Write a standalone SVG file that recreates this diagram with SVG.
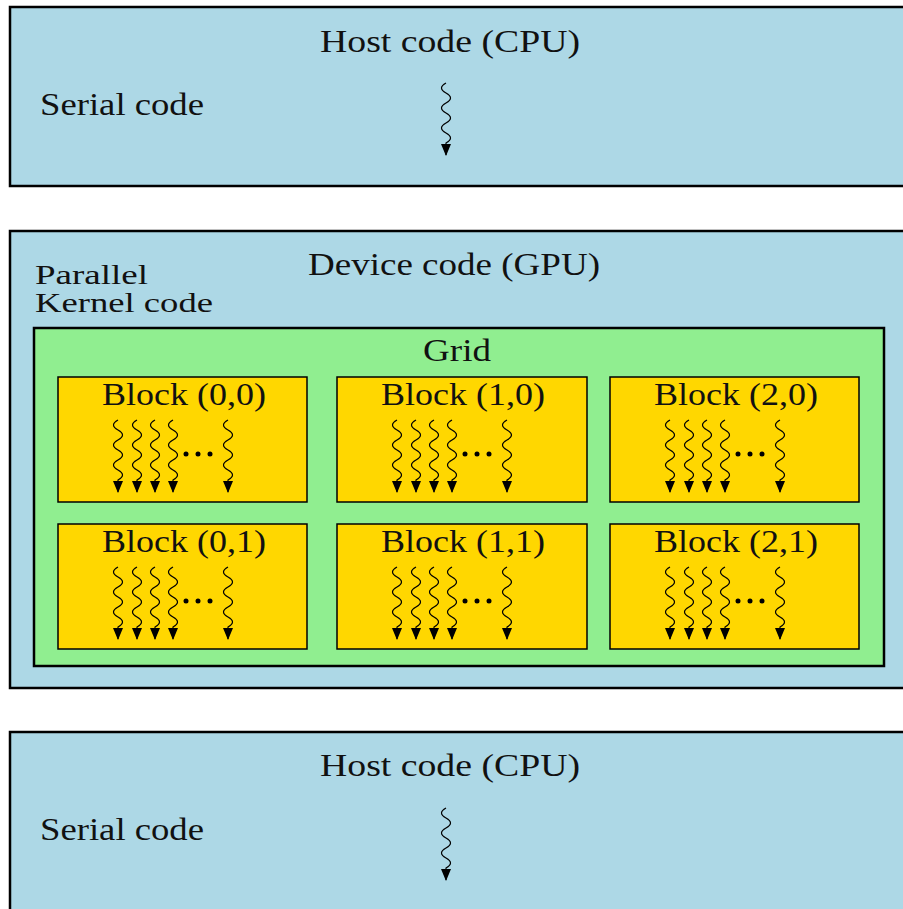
<svg xmlns="http://www.w3.org/2000/svg" width="903" height="909" viewBox="0 0 903 909">
  <style>
    .host { fill: #ADD8E6; stroke: #000; stroke-width: 2.5; }
    .grid { fill: #90EE90; stroke: #000; stroke-width: 2.5; }
    .block { fill: #FFD700; stroke: #000; stroke-width: 1.5; }
    .lbl { font-family: "Liberation Serif", "DejaVu Serif", serif; font-size: 31px; fill: #111; }
    .small { font-size: 28px; }
    .wave { fill: none; stroke: #000; stroke-width: 1.2; }
  </style>
  <defs>
    <marker id="tip" markerUnits="userSpaceOnUse" markerWidth="12" markerHeight="10" refX="11" refY="5" orient="auto" viewBox="0 0 12 10">
      <path d="M0,0 L12,5 L0,10 Z" fill="#000"/>
    </marker>
  </defs>

  <!-- host section, top -->
  <g id="host-top">
    <rect class="host" x="10" y="7" width="910" height="179"/>
    <text class="lbl" x="320" y="52" textLength="260" lengthAdjust="spacingAndGlyphs">Host code (CPU)</text>
    <text class="lbl" x="40" y="115" textLength="164" lengthAdjust="spacingAndGlyphs">Serial code</text>
  </g>

  <!-- device section -->
  <g id="device">
    <rect class="host" x="10" y="231" width="910" height="457"/>
    <text class="lbl" x="308" y="275" textLength="292" lengthAdjust="spacingAndGlyphs">Device code (GPU)</text>
    <text class="lbl small" x="35" y="284" textLength="113" lengthAdjust="spacingAndGlyphs">Parallel</text>
    <text class="lbl small" x="35" y="312" textLength="178" lengthAdjust="spacingAndGlyphs">Kernel code</text>
  </g>

  <g id="grid">
    <rect class="grid" x="34" y="328" width="850" height="338"/>
    <text class="lbl" x="423" y="361" textLength="68" lengthAdjust="spacingAndGlyphs">Grid</text>
  </g>

  <g id="block-0-0">
    <rect class="block" x="58" y="377" width="249" height="125"/>
    <text class="lbl" x="102" y="405" textLength="164" lengthAdjust="spacingAndGlyphs">Block (0,0)</text>
  </g>
  <g id="block-1-0">
    <rect class="block" x="337" y="377" width="250" height="125"/>
    <text class="lbl" x="381" y="405" textLength="164" lengthAdjust="spacingAndGlyphs">Block (1,0)</text>
  </g>
  <g id="block-2-0">
    <rect class="block" x="610" y="377" width="249" height="125"/>
    <text class="lbl" x="654" y="405" textLength="164" lengthAdjust="spacingAndGlyphs">Block (2,0)</text>
  </g>
  <g id="block-0-1">
    <rect class="block" x="58" y="524" width="249" height="125"/>
    <text class="lbl" x="102" y="552" textLength="164" lengthAdjust="spacingAndGlyphs">Block (0,1)</text>
  </g>
  <g id="block-1-1">
    <rect class="block" x="337" y="524" width="250" height="125"/>
    <text class="lbl" x="381" y="552" textLength="164" lengthAdjust="spacingAndGlyphs">Block (1,1)</text>
  </g>
  <g id="block-2-1">
    <rect class="block" x="610" y="524" width="249" height="125"/>
    <text class="lbl" x="654" y="552" textLength="164" lengthAdjust="spacingAndGlyphs">Block (2,1)</text>
  </g>

  <!-- host section, bottom -->
  <g id="host-bottom">
    <rect class="host" x="10" y="732" width="910" height="200"/>
    <text class="lbl" x="320" y="776" textLength="260" lengthAdjust="spacingAndGlyphs">Host code (CPU)</text>
    <text class="lbl" x="40" y="840" textLength="164" lengthAdjust="spacingAndGlyphs">Serial code</text>
  </g>

  <!-- threads of execution: squiggles ending in arrowheads -->
  <g id="connectors">
    <path class="wave" marker-end="url(#tip)" d="M446,83 q-9,5 0,10 t0,10 t0,10 t0,10 t0,10 t0,10 l0,12"/>
    <path class="wave" marker-end="url(#tip)" d="M446,808 q-9,5 0,10 t0,10 t0,10 t0,10 t0,10 t0,10 l0,12"/>
    <g id="block-threads">
      <path class="wave" marker-end="url(#tip)" d="M118,420 q-9,5 0,10 t0,10 t0,10 t0,10 t0,10 t0,10 l0,12"/>
      <path class="wave" marker-end="url(#tip)" d="M137,420 q-9,5 0,10 t0,10 t0,10 t0,10 t0,10 t0,10 l0,12"/>
      <path class="wave" marker-end="url(#tip)" d="M155,420 q-9,5 0,10 t0,10 t0,10 t0,10 t0,10 t0,10 l0,12"/>
      <path class="wave" marker-end="url(#tip)" d="M173,420 q-9,5 0,10 t0,10 t0,10 t0,10 t0,10 t0,10 l0,12"/>
      <path class="wave" marker-end="url(#tip)" d="M228,420 q-9,5 0,10 t0,10 t0,10 t0,10 t0,10 t0,10 l0,12"/>

      <path class="wave" marker-end="url(#tip)" d="M397,420 q-9,5 0,10 t0,10 t0,10 t0,10 t0,10 t0,10 l0,12"/>
      <path class="wave" marker-end="url(#tip)" d="M416,420 q-9,5 0,10 t0,10 t0,10 t0,10 t0,10 t0,10 l0,12"/>
      <path class="wave" marker-end="url(#tip)" d="M434,420 q-9,5 0,10 t0,10 t0,10 t0,10 t0,10 t0,10 l0,12"/>
      <path class="wave" marker-end="url(#tip)" d="M452,420 q-9,5 0,10 t0,10 t0,10 t0,10 t0,10 t0,10 l0,12"/>
      <path class="wave" marker-end="url(#tip)" d="M507,420 q-9,5 0,10 t0,10 t0,10 t0,10 t0,10 t0,10 l0,12"/>

      <path class="wave" marker-end="url(#tip)" d="M670,420 q-9,5 0,10 t0,10 t0,10 t0,10 t0,10 t0,10 l0,12"/>
      <path class="wave" marker-end="url(#tip)" d="M689,420 q-9,5 0,10 t0,10 t0,10 t0,10 t0,10 t0,10 l0,12"/>
      <path class="wave" marker-end="url(#tip)" d="M707,420 q-9,5 0,10 t0,10 t0,10 t0,10 t0,10 t0,10 l0,12"/>
      <path class="wave" marker-end="url(#tip)" d="M725,420 q-9,5 0,10 t0,10 t0,10 t0,10 t0,10 t0,10 l0,12"/>
      <path class="wave" marker-end="url(#tip)" d="M780,420 q-9,5 0,10 t0,10 t0,10 t0,10 t0,10 t0,10 l0,12"/>

      <path class="wave" marker-end="url(#tip)" d="M118,567 q-9,5 0,10 t0,10 t0,10 t0,10 t0,10 t0,10 l0,12"/>
      <path class="wave" marker-end="url(#tip)" d="M137,567 q-9,5 0,10 t0,10 t0,10 t0,10 t0,10 t0,10 l0,12"/>
      <path class="wave" marker-end="url(#tip)" d="M155,567 q-9,5 0,10 t0,10 t0,10 t0,10 t0,10 t0,10 l0,12"/>
      <path class="wave" marker-end="url(#tip)" d="M173,567 q-9,5 0,10 t0,10 t0,10 t0,10 t0,10 t0,10 l0,12"/>
      <path class="wave" marker-end="url(#tip)" d="M228,567 q-9,5 0,10 t0,10 t0,10 t0,10 t0,10 t0,10 l0,12"/>

      <path class="wave" marker-end="url(#tip)" d="M397,567 q-9,5 0,10 t0,10 t0,10 t0,10 t0,10 t0,10 l0,12"/>
      <path class="wave" marker-end="url(#tip)" d="M416,567 q-9,5 0,10 t0,10 t0,10 t0,10 t0,10 t0,10 l0,12"/>
      <path class="wave" marker-end="url(#tip)" d="M434,567 q-9,5 0,10 t0,10 t0,10 t0,10 t0,10 t0,10 l0,12"/>
      <path class="wave" marker-end="url(#tip)" d="M452,567 q-9,5 0,10 t0,10 t0,10 t0,10 t0,10 t0,10 l0,12"/>
      <path class="wave" marker-end="url(#tip)" d="M507,567 q-9,5 0,10 t0,10 t0,10 t0,10 t0,10 t0,10 l0,12"/>

      <path class="wave" marker-end="url(#tip)" d="M670,567 q-9,5 0,10 t0,10 t0,10 t0,10 t0,10 t0,10 l0,12"/>
      <path class="wave" marker-end="url(#tip)" d="M689,567 q-9,5 0,10 t0,10 t0,10 t0,10 t0,10 t0,10 l0,12"/>
      <path class="wave" marker-end="url(#tip)" d="M707,567 q-9,5 0,10 t0,10 t0,10 t0,10 t0,10 t0,10 l0,12"/>
      <path class="wave" marker-end="url(#tip)" d="M725,567 q-9,5 0,10 t0,10 t0,10 t0,10 t0,10 t0,10 l0,12"/>
      <path class="wave" marker-end="url(#tip)" d="M780,567 q-9,5 0,10 t0,10 t0,10 t0,10 t0,10 t0,10 l0,12"/>
    </g>
  </g>

  <!-- ellipses between threads -->
  <g id="ellipses" fill="#000">
    <circle cx="186" cy="454" r="2.5"/><circle cx="198" cy="454" r="2.5"/><circle cx="210" cy="454" r="2.5"/>
    <circle cx="465" cy="454" r="2.5"/><circle cx="477" cy="454" r="2.5"/><circle cx="489" cy="454" r="2.5"/>
    <circle cx="738" cy="454" r="2.5"/><circle cx="750" cy="454" r="2.5"/><circle cx="762" cy="454" r="2.5"/>
    <circle cx="186" cy="601" r="2.5"/><circle cx="198" cy="601" r="2.5"/><circle cx="210" cy="601" r="2.5"/>
    <circle cx="465" cy="601" r="2.5"/><circle cx="477" cy="601" r="2.5"/><circle cx="489" cy="601" r="2.5"/>
    <circle cx="738" cy="601" r="2.5"/><circle cx="750" cy="601" r="2.5"/><circle cx="762" cy="601" r="2.5"/>
  </g>
</svg>
